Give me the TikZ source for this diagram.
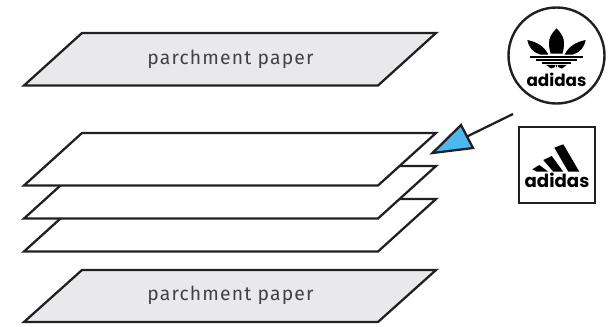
\documentclass[tikz,border=0pt]{standalone}
\usepackage{fontspec}
\setmainfont{Fira Sans}
\newfontfamily\logofont{Poppins}
\definecolor{ink}{HTML}{231F20}
\definecolor{parch}{HTML}{E9E9EB}
\definecolor{sky}{HTML}{4CB8F0}
\tikzset{
  sheet/.style={draw=ink,line width=1.7pt,fill=white,line join=miter,miter limit=10},
  parchsheet/.style={sheet,fill=parch},
  lbl/.style={text=ink!85,font=\fontsize{14.5}{16}\selectfont\addfontfeature{LetterSpace=6}},
  logotext/.style={text=black,font=\logofont\bfseries\fontsize{12.6}{14}\selectfont,inner sep=0pt},
  frame/.style={draw=ink,line width=1.8pt,fill=white}
}
\begin{document}
\begin{tikzpicture}[x=0.75pt,y=-0.75pt]
\useasboundingbox (0,0) rectangle (616,326);
\draw[parchsheet] (82,33) -- (436,33) -- (378,85.5) -- (24,85.5) -- cycle;
\node[lbl] (p1) at (230.5,59) {parchment paper};
\draw[sheet] (82,199) -- (436,199) -- (378,251.5) -- (24,251.5) -- cycle;
\draw[sheet] (82,166) -- (436,166) -- (378,218.5) -- (24,218.5) -- cycle;
\draw[sheet] (82,133) -- (436,133) -- (378,185.5) -- (24,185.5) -- cycle;
\draw[parchsheet] (82,270) -- (436,270) -- (378,322) -- (24,322) -- cycle;
\node[lbl] (p2) at (230.5,295) {parchment paper};
% arrow
\coordinate (tail) at (513,114);
\coordinate (head) at (467,136.5);
\draw[ink,line width=1.7pt] (tail) -- (head);
\draw[draw=ink,fill=sky,line width=1.7pt] (461,125) -- (473,148) -- (432.5,153) -- cycle;
% round logo
\node[frame,circle,minimum size=72pt,inner sep=0pt] (c) at (556.5,55.5) {};
\fill[black] (556.5,28.3) .. controls (551,34) and (549,38) .. (549,43) .. controls (549,47) and (549.5,50) .. (550.5,53.5) -- (562.5,53.5) .. controls (563.5,50) and (564,47) .. (564,43) .. controls (564,38) and (562,34) .. (556.5,28.3) -- cycle;
\fill[black] (527.3,40) .. controls (537,42) and (544,46) .. (548.3,54.5) -- (540,54.5) .. controls (533,52.5) and (528.5,47) .. (527.3,40) -- cycle;
\fill[black] (585.7,40) .. controls (576,42) and (569,46) .. (564.7,54.5) -- (573,54.5) .. controls (580,52.5) and (584.5,47) .. (585.7,40) -- cycle;
\fill[black] (530,55.6) rectangle (583,57.6);
\fill[black] (536,58.7) rectangle (577,60.7);
\fill[black] (542,61.8) rectangle (571,63.8);
\fill[black] (546,64.8) -- (555,64.8) -- (555,67) -- (551,68.5) -- cycle;
\fill[black] (558,64.8) -- (567,64.8) -- (562,68.5) -- (558,67) -- cycle;
\fill[black] (555.5,64.8) -- (557.5,64.8) -- (556.5,67.5) -- cycle;
\node[logotext] (a1) at (556.5,79.5) {adidas};
% square logo
\node[frame,minimum width=57pt,minimum height=57pt,inner sep=0pt] (s) at (557,165) {};
\fill[black] (554.3,147.7) -- (563.3,144.3) -- (579.3,171.7) -- (568.3,171.7) -- cycle;
\fill[black] (543.3,160) -- (551.7,156) -- (563.3,171.7) -- (553.3,171.7) -- cycle;
\fill[black] (532.3,169.3) -- (539.3,165) -- (548.3,171.7) -- (537,171.7) -- cycle;
\node[logotext,font=\logofont\bfseries\fontsize{13.6}{15}\selectfont] (a2) at (557,180) {adidas};
\end{tikzpicture}
\end{document}
